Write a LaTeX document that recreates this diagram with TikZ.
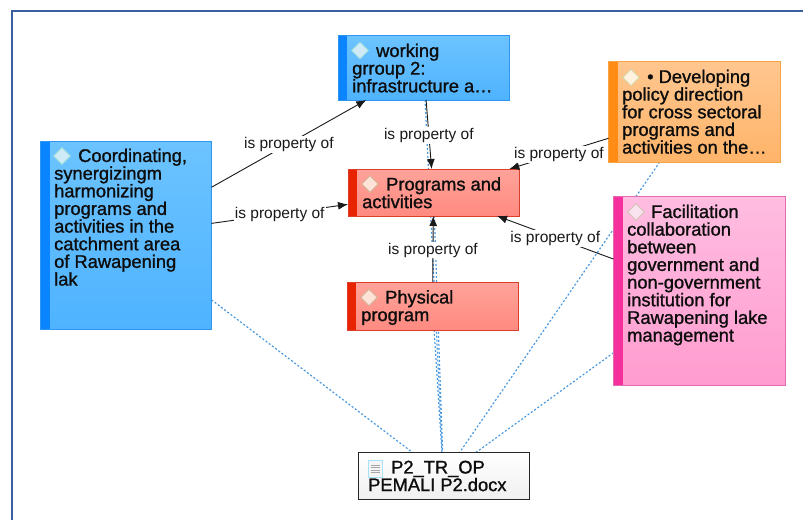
\documentclass[tikz,border=0pt]{standalone}
\usepackage{fontspec}
\setmainfont{Liberation Sans}
\newfontfamily\boxfont[RawFeature={embolden=1.2}]{Liberation Sans}
\usetikzlibrary{arrows.meta,backgrounds,shapes.geometric}
\definecolor{framecol}{HTML}{3A5F9F}
\definecolor{linkcol}{HTML}{4A98E0}
\tikzset{
    box/.style ={
        shape=rectangle,
        anchor=north west,
        inner sep=0pt,
        outer sep=0pt,
        line width=0.9pt,
        path picture={\fill[#1] (path picture bounding box.north west) rectangle ([xshift=9pt]path picture bounding box.south west);}
    },
    bluebox/.style ={
        box=stripeblue,
        draw=edgeblue,
        top color=fillblueA,
        bottom color=fillblueB
    },
    redbox/.style ={
        box=stripered,
        draw=edgered,
        top color=fillredA,
        bottom color=fillredB
    },
    orangebox/.style ={
        box=stripeorange,
        draw=edgeorange,
        top color=fillorangeA,
        bottom color=fillorangeB
    },
    pinkbox/.style ={
        box=stripepink,
        draw=edgepink,
        top color=fillpinkA,
        bottom color=fillpinkB
    },
    docbox/.style ={
        shape=rectangle,
        anchor=north west,
        inner sep=0pt,
        outer sep=0pt,
        line width=0.9pt,
        draw=black!85,
        top color=white,
        bottom color=black!6
    },
    boxtext/.style ={
        anchor=north west,
        inner sep=0pt,
        align=left,
        text=black!95,
        font=\boxfont\fontsize{18.3}{17.65}\selectfont
    },
    gem/.style ={
        shape=diamond,
        inner sep=0pt,
        minimum size=17pt,
        line width=0.9pt
    },
    relline/.style ={
        draw=black!90,
        line width=0.9pt,
        -{Latex[length=10pt,width=8pt]}
    },
    rellabel/.style ={
        fill=white,
        inner sep=1pt,
        yshift=-1pt,
        text=black!90,
        font=\fontsize{15.5}{17}\selectfont
    },
    dotline/.style ={
        draw=linkcol,
        line width=1.2pt,
        dash pattern=on 2pt off 2pt
    }
}
\definecolor{stripeblue}{HTML}{0A84FF}
\definecolor{edgeblue}{HTML}{2F96F0}
\definecolor{fillblueA}{HTML}{6CC3FF}
\definecolor{fillblueB}{HTML}{4FB3FF}
\definecolor{stripered}{HTML}{E82400}
\definecolor{edgered}{HTML}{DB3F2C}
\definecolor{fillredA}{HTML}{FFA39A}
\definecolor{fillredB}{HTML}{FF8A80}
\definecolor{stripeorange}{HTML}{FF8C14}
\definecolor{edgeorange}{HTML}{F7A445}
\definecolor{fillorangeA}{HTML}{FFC68F}
\definecolor{fillorangeB}{HTML}{FFB469}
\definecolor{stripepink}{HTML}{F52F9B}
\definecolor{edgepink}{HTML}{E56CAE}
\definecolor{fillpinkA}{HTML}{FFBDE1}
\definecolor{fillpinkB}{HTML}{FF9CCF}
\definecolor{gemblue}{HTML}{CFEBF7}
\definecolor{gemblueedge}{HTML}{A5E0DA}
\definecolor{gemred}{HTML}{FFE3D8}
\definecolor{gemrededge}{HTML}{D2B394}
\definecolor{gemorange}{HTML}{FFF2E0}
\definecolor{gemorangeedge}{HTML}{D5D6A2}
\definecolor{gempink}{HTML}{F8E3EE}
\definecolor{gempinkedge}{HTML}{D4C3B4}

\begin{document}
\begin{tikzpicture}[x=1pt,y=-1pt]
    \useasboundingbox (0,0) rectangle (803,520);
    \coordinate (framestart) at(11.5,520);
    \coordinate (framecorner) at(11.5,11);
    \coordinate (frameend) at(803,11);
    \draw[framecol,line width=2pt] (framestart) -- (framecorner) -- (frameend);

    \node[bluebox,minimum width=171pt,minimum height=188.5pt] (coord) at(40.5,141) {};
    \node[bluebox,minimum width=171pt,minimum height=64.5pt] (working) at(338,35.5) {};
    \node[redbox,minimum width=171pt,minimum height=47pt] (programs) at(348,169) {};
    \node[redbox,minimum width=171pt,minimum height=48pt] (physical) at(347,282) {};
    \node[orangebox,minimum width=171.5pt,minimum height=100.5pt] (policy) at(608.5,61.5) {};
    \node[pinkbox,minimum width=171.5pt,minimum height=188.5pt] (facil) at(613.5,196.5) {};
    \node[docbox,minimum width=171pt,minimum height=47pt] (doc) at(358,452.5) {};

    \node[gem,fill=gemblue,draw=gemblueedge] (coordgem) at(62,156) {};
    \node[gem,fill=gemblue,draw=gemblueedge] (workinggem) at(360,50.5) {};
    \node[gem,fill=gemred,draw=gemrededge] (programsgem) at(370,184) {};
    \node[gem,fill=gemred,draw=gemrededge] (physicalgem) at(369,297.5) {};
    \node[gem,fill=gemorange,draw=gemorangeedge] (policygem) at(631,77.5) {};
    \node[gem,fill=gempink,draw=gempinkedge] (facilgem) at(636,212) {};

    \node[boxtext] (coordtext) at(54,148.5) {\hspace*{24pt}Coordinating,\\synergizingm\\harmonizing\\programs and\\activities in the\\catchment area\\of Rawapening\\lak};
    \node[boxtext] (workingtext) at(352,43.5) {\hspace*{24pt}working\\grroup 2:\\infrastructure a\dots};
    \node[boxtext] (programstext) at(362,177) {\hspace*{24pt}Programs and\\activities};
    \node[boxtext] (physicaltext) at(361,290) {\hspace*{24pt}Physical\\program};
    \node[boxtext] (policytext) at(622,69.5) {\hspace*{25pt}• Developing\\policy direction\\for cross sectoral\\programs and\\activities on the\dots};
    \node[boxtext] (faciltext) at(627,204.5) {\hspace*{24pt}Facilitation\\collaboration\\between\\government and\\non-government\\institution for\\Rawapening lake\\management};
    \node[boxtext] (doctext) at(368,460.5) {\hspace*{23pt}P2\_TR\_OP\\PEMALI P2.docx};

    \node[draw=cyan!35,fill=black!4,line width=0.7pt,inner sep=0pt,minimum width=14pt,minimum height=17pt] (docicon) at(375.5,468.5) {};
    \foreach \ly in {-4,-1.5,1,3.5}
        \draw[black!35,line width=0.8pt] ([xshift=-4.5pt,yshift=\ly pt]docicon.center) -- ([xshift=4.5pt,yshift=\ly pt]docicon.center);

    \begin{pgfonlayer}{background}
        \draw[dotline] (coord) -- (doc);
        \draw[dotline] (working) -- (doc);
        \draw[dotline] (programs) -- (doc);
        \draw[dotline] (physical) -- (doc);
        \draw[dotline] (policy) -- (doc);
        \draw[dotline] (facil) -- (doc);
    \end{pgfonlayer}

    \draw[relline] (coord) -- node[rellabel] (coordworking) {is property of} (working);
    \draw[relline] (coord) -- node[rellabel] (coordprograms) {is property of} (programs);
    \draw[relline] (working) -- node[rellabel] (workingprograms) {is property of} (programs);
    \draw[relline] (policy) -- node[rellabel] (policyprograms) {is property of} (programs);
    \draw[relline] (facil) -- node[rellabel] (facilprograms) {is property of} (programs);
    \draw[relline] (physical) -- node[rellabel] (physicalprograms) {is property of} (programs);
\end{tikzpicture}
\end{document}
